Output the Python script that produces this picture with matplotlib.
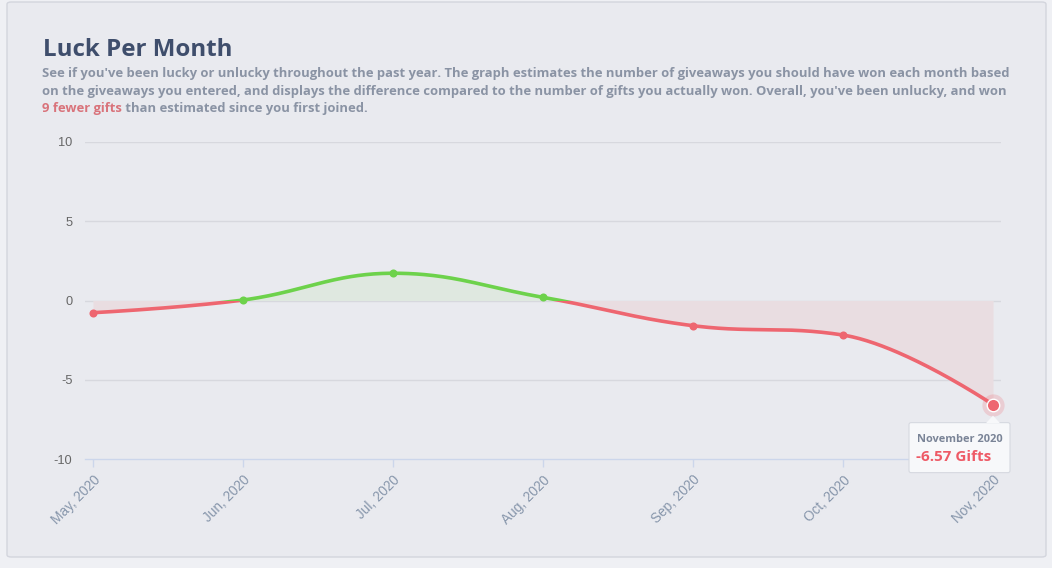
import numpy as np
import matplotlib
matplotlib.use("Agg")
import matplotlib.pyplot as plt
from matplotlib.patches import FancyBboxPatch, Polygon, Rectangle
from matplotlib.transforms import IdentityTransform

# ---------------- data ----------------
months = ["May, 2020", "Jun, 2020", "Jul, 2020", "Aug, 2020", "Sep, 2020", "Oct, 2020", "Nov, 2020"]
luck = [-0.77, 0.03, 1.72, 0.20, -1.59, -2.18, -6.57]
y_ticks = [-10, -5, 0, 5, 10]
title = "Luck Per Month"
sub_line1 = "See if you've been lucky or unlucky throughout the past year. The graph estimates the number of giveaways you should have won each month based"
sub_line2 = "on the giveaways you entered, and displays the difference compared to the number of gifts you actually won. Overall, you've been unlucky, and won"
sub_red = "9 fewer gifts"
sub_rest = " than estimated since you first joined."
tip_title = "November 2020"
tip_value = "-6.57 Gifts"

# ---------------- style ----------------
W, H = 1052, 568
BG_OUT = "#eff0f4"
BG_CARD = "#e9eaef"
RED = "#ee6670"
GREEN = "#6dd24b"
RED_FILL = "#e9dde1"
GREEN_FILL = "#dfe8e0"
GRID = "#d7d8de"
AXIS = "#ccd6eb"

fig = plt.figure(figsize=(W / 100, H / 100), dpi=100)
fig.patch.set_facecolor(BG_OUT)

def fx(x):
    return x / W

def fy(y):
    return 1 - y / H

# card
card = FancyBboxPatch((fx(7), fy(557)), fx(1046) - fx(7), fy(2) - fy(557),
                      boxstyle="round,pad=0,rounding_size=0.004",
                      transform=fig.transFigure, facecolor=BG_CARD,
                      edgecolor="#d3d5dd", linewidth=1.0, zorder=-5)
fig.patches.append(card)

# axes
left, right, top, bottom = 85, 1001, 142, 459
ax = fig.add_axes([fx(left), fy(bottom), fx(right) - fx(left), (bottom - top) / H])
ax.set_facecolor("none")
ax.set_zorder(1)
n = len(months)
xs = np.arange(n)
pad = 8 / 150
ax.set_xlim(-pad, n - 1 + pad)
ax.set_ylim(-10, 10)

# Highcharts-like spline (computed in pixel-ish space)
sx, sy = 150.0, 15.85
px = xs * sx
py = np.array(luck) * sy
sm, den = 1.5, 2.5
lc = [None] * n
rc = [None] * n
for i in range(1, n - 1):
    x, y = px[i], py[i]
    lx = (sm * x + px[i - 1]) / den
    ly = (sm * y + py[i - 1]) / den
    rx = (sm * x + px[i + 1]) / den
    ry = (sm * y + py[i + 1]) / den
    corr = ((ry - ly) * (rx - x)) / (rx - lx) + y - ry
    ly += corr
    ry += corr
    if ly > py[i - 1] and ly > y:
        ly = max(py[i - 1], y); ry = 2 * y - ly
    elif ly < py[i - 1] and ly < y:
        ly = min(py[i - 1], y); ry = 2 * y - ly
    if ry > py[i + 1] and ry > y:
        ry = max(py[i + 1], y); ly = 2 * y - ry
    elif ry < py[i + 1] and ry < y:
        ry = min(py[i + 1], y); ly = 2 * y - ry
    lc[i] = (lx, ly)
    rc[i] = (rx, ry)

cx, cy = [], []
t = np.linspace(0, 1, 80)
for i in range(n - 1):
    p0 = (px[i], py[i])
    p3 = (px[i + 1], py[i + 1])
    p1 = rc[i] if rc[i] is not None else p0
    p2 = lc[i + 1] if lc[i + 1] is not None else p3
    bx = (1 - t) ** 3 * p0[0] + 3 * (1 - t) ** 2 * t * p1[0] + 3 * (1 - t) * t ** 2 * p2[0] + t ** 3 * p3[0]
    by = (1 - t) ** 3 * p0[1] + 3 * (1 - t) ** 2 * t * p1[1] + 3 * (1 - t) * t ** 2 * p2[1] + t ** 3 * p3[1]
    cx.extend(bx[:-1] if i < n - 2 else bx)
    cy.extend(by[:-1] if i < n - 2 else by)
cx = np.array(cx) / sx
cy = np.array(cy) / sy

# grid
for v in y_ticks:
    if v == -10:
        continue
    ax.axhline(v, color=GRID, lw=1.0, zorder=1)

# zone clips
clip_up = Rectangle((-1, 0), n + 2, 20, transform=ax.transData)
clip_dn = Rectangle((-1, -20), n + 2, 20, transform=ax.transData)

f1 = ax.fill_between(cx, cy, 0, color=GREEN_FILL, lw=0, zorder=2)
f1.set_clip_path(clip_up)
f2 = ax.fill_between(cx, cy, 0, color=RED_FILL, lw=0, zorder=2)
f2.set_clip_path(clip_dn)

l1, = ax.plot(cx, cy, color=GREEN, lw=2.6, solid_capstyle="round", zorder=3)
l1.set_clip_path(clip_up)
l2, = ax.plot(cx, cy, color=RED, lw=2.6, solid_capstyle="round", zorder=3)
l2.set_clip_path(clip_dn)

for i in range(n - 1):
    c = GREEN if luck[i] >= 0 else RED
    ax.plot(xs[i], luck[i], "o", color=c, ms=5.8, mew=0, zorder=4, clip_on=False)

# hovered last point with halo
ax.plot(xs[-1], luck[-1], "o", color=RED, alpha=0.22, ms=16, mew=0, zorder=4, clip_on=False)
ax.plot(xs[-1], luck[-1], "o", color=RED, ms=9, mec="white", mew=1.0, zorder=5, clip_on=False)

# axes styling
for s in ["top", "right", "left"]:
    ax.spines[s].set_visible(False)
ax.spines["bottom"].set_color(AXIS)
ax.spines["bottom"].set_linewidth(1.0)
ax.set_yticks(y_ticks)
ax.set_yticklabels([str(v) for v in y_ticks], fontfamily="Liberation Sans", fontsize=9.2, color="#666666")
ax.tick_params(axis="y", length=0, pad=15 - 6)
ax.set_xticks(xs)
ax.set_xticklabels(months, rotation=45, ha="right", va="top", rotation_mode="anchor",
                   fontfamily="Liberation Sans", fontsize=9.8, color="#8796ab")
ax.tick_params(axis="x", length=6, width=1, color=AXIS, pad=4)

# title & subtitle
fig.text(fx(43), fy(56), title, fontfamily="Open Sans", fontweight="bold",
         fontsize=17.4, color="#3f4e6c", va="baseline")
SUB = dict(fontfamily="Open Sans", fontweight="bold", fontsize=9.35, color="#8a93a4", va="baseline")
fig.text(fx(42), fy(77), sub_line1, **SUB)
fig.text(fx(42), fy(95), sub_line2, **SUB)
red_t = fig.text(fx(42), fy(112), sub_red, **{**SUB, "color": "#d9737b"})
fig.canvas.draw()
r = fig.canvas.get_renderer()
bb = red_t.get_window_extent(r)
fig.text(bb.x1 / W, fy(112), sub_rest, **SUB)

# tooltip
fig.canvas.draw()
pxp, pyp = ax.transData.transform((xs[-1], luck[-1]))
bx0, bx1 = pxp - 84, pxp + 17
by1 = pyp - 18   # top of box (display coords, origin bottom)
by0 = by1 - 50
box = FancyBboxPatch((bx0, by0), bx1 - bx0, by1 - by0,
                     boxstyle="round,pad=0,rounding_size=2", transform=IdentityTransform(),
                     facecolor="#f7f8fa", edgecolor="#d6d9e0", lw=0.8, zorder=10)
fig.patches.append(box)
tri = Polygon([(pxp - 7, by1 - 0.5), (pxp + 7, by1 - 0.5), (pxp, by1 + 7)], closed=True,
              transform=IdentityTransform(), facecolor="#f7f8fa", edgecolor="none", zorder=11)
fig.patches.append(tri)
fig.text((bx0 + 8) / W, (by1 - 19) / H, tip_title, fontfamily="Open Sans", fontweight="bold",
         fontsize=7.9, color="#7a8497", va="baseline", zorder=12)
fig.text((bx0 + 7) / W, (by1 - 38) / H, tip_value, fontfamily="Open Sans", fontweight="bold",
         fontsize=11, color="#ee5a66", va="baseline", zorder=12)

fig.savefig("out.png", dpi=100, facecolor=fig.get_facecolor())
